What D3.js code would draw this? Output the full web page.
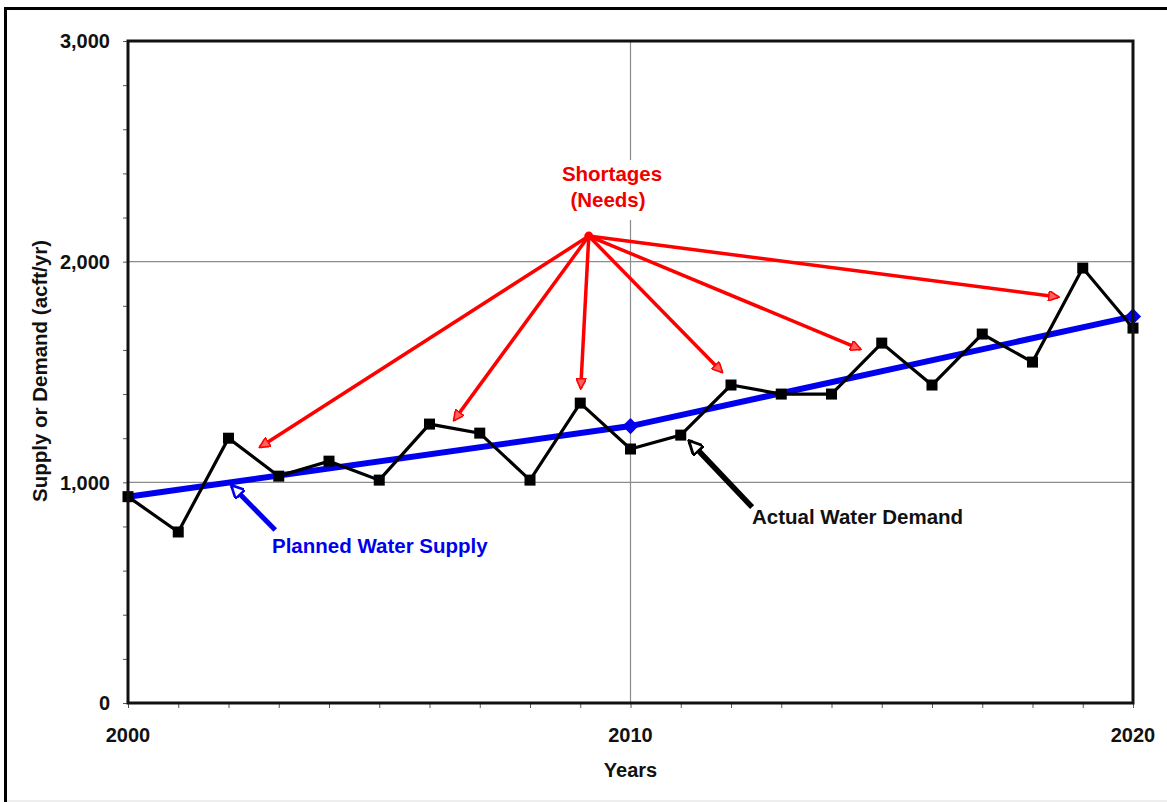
<!DOCTYPE html>
<html>
<head>
<meta charset="utf-8">
<script src="https://cdn.jsdelivr.net/npm/d3@7"></script>
<style>
  html, body { margin: 0; padding: 0; background: #fff; }
  svg { display: block; }
  text { font-family: "Liberation Sans", Arial, sans-serif; font-weight: bold; }
</style>
</head>
<body>
<div id="chart"></div>
<script>
// ---------- data ----------
const years = [2000,2001,2002,2003,2004,2005,2006,2007,2008,2009,2010,
               2011,2012,2013,2014,2015,2016,2017,2018,2019,2020];
const actualDemand = [935,775,1200,1028,1096,1010,1264,1223,1010,1359,1151,
                      1214,1441,1400,1400,1631,1441,1672,1545,1971,1699];
const supplyYears = [2000, 2010, 2020];
const plannedSupply = [935, 1255, 1752];
const supplyMarkerYears = [2010, 2020];

const yMajorTicks = [0, 1000, 2000, 3000];
const xLabelTicks = [2000, 2010, 2020];

// annotation anchor points (data coordinates)
const shortageOrigin = {year: 2009.17, value: 2116};
const shortageTargetYears  = [2002.63, 2006.49, 2009.01, 2011.82, 2014.57, 2018.51];
const shortageTargetValues = [1160, 1282, 1427, 1500, 1604, 1840];
const supplyCallout = {fromYear: 2002.93, fromValue: 784, toYear: 2002.07, toValue: 983};
const demandCallout = {fromYear: 2012.42, fromValue: 888, toYear: 2011.18, toValue: 1185};

// ---------- layout ----------
const W = 1167, H = 802;
const svg = d3.select("#chart").append("svg").attr("width", W).attr("height", H);

const x = d3.scaleLinear().domain([2000, 2020]).range([128, 1133]);
const y = d3.scaleLinear().domain([0, 3000]).range([703, 41]);

// outer frame
svg.append("line").attr("x1", 5.5).attr("x2", 5.5).attr("y1", 7).attr("y2", 802)
  .attr("stroke", "#000").attr("stroke-width", 3);
svg.append("line").attr("x1", 4).attr("x2", 1167).attr("y1", 8.5).attr("y2", 8.5)
  .attr("stroke", "#000").attr("stroke-width", 3);
svg.append("line").attr("x1", 7).attr("x2", 1167).attr("y1", 801).attr("y2", 801)
  .attr("stroke", "#ddd").attr("stroke-width", 1);

const defs = svg.append("defs");
defs.append("marker").attr("id", "redHead")
  .attr("viewBox", "0 0 10 10").attr("refX", 9).attr("refY", 5)
  .attr("markerWidth", 3.4).attr("markerHeight", 3.0).attr("markerUnits", "strokeWidth")
  .attr("orient", "auto")
  .append("path").attr("d", "M0,0 L10,5 L0,10 Z")
  .attr("fill", "#ff6060").attr("stroke", "#ff0000").attr("stroke-width", 1.5);
defs.append("marker").attr("id", "blackHead")
  .attr("viewBox", "0 0 10 10").attr("refX", 9).attr("refY", 5)
  .attr("markerWidth", 3).attr("markerHeight", 2.6).attr("markerUnits", "strokeWidth")
  .attr("orient", "auto")
  .append("path").attr("d", "M0,0 L10,5 L0,10 Z")
  .attr("fill", "#fff").attr("stroke", "#000").attr("stroke-width", 2);
defs.append("marker").attr("id", "blueHead")
  .attr("viewBox", "0 0 10 10").attr("refX", 9).attr("refY", 5)
  .attr("markerWidth", 3).attr("markerHeight", 2.6).attr("markerUnits", "strokeWidth")
  .attr("orient", "auto")
  .append("path").attr("d", "M0,0 L10,5 L0,10 Z")
  .attr("fill", "#fff").attr("stroke", "#0000ee").attr("stroke-width", 2);

// gridlines
svg.append("g").selectAll("line").data([1000, 2000]).join("line")
  .attr("x1", x(2000)).attr("x2", x(2020))
  .attr("y1", d => y(d)).attr("y2", d => y(d))
  .attr("stroke", "#8c8c8c").attr("stroke-width", 1.2);
svg.append("line")
  .attr("x1", x(2010)).attr("x2", x(2010)).attr("y1", y(3000)).attr("y2", y(0))
  .attr("stroke", "#8c8c8c").attr("stroke-width", 1.2);

// axes (minor ticks)
const yAxis = d3.axisLeft(y).tickValues(d3.range(0, 3001, 200)).tickSize(5).tickFormat("");
const gy = svg.append("g").attr("transform", `translate(${x(2000)},0)`).call(yAxis);
const xAxis = d3.axisBottom(x).tickValues(d3.range(2000, 2021, 1)).tickSize(5).tickFormat("");
const gx = svg.append("g").attr("transform", `translate(0,${y(0)})`).call(xAxis);
[gx, gy].forEach(g => {
  g.select(".domain").remove();
  g.selectAll(".tick line").attr("stroke", "#555").attr("stroke-width", 1);
});

// tick labels
svg.append("g").selectAll("text").data(yMajorTicks).join("text")
  .attr("x", 110).attr("y", d => y(d)).attr("dy", "0.36em")
  .attr("text-anchor", "end").attr("font-size", 20).attr("fill", "#111")
  .text(d => d3.format(",")(d));
svg.append("g").selectAll("text").data(xLabelTicks).join("text")
  .attr("x", d => x(d)).attr("y", 742)
  .attr("text-anchor", "middle").attr("font-size", 20).attr("fill", "#111")
  .text(d => d);

// axis titles
svg.append("text").attr("x", x(2010)).attr("y", 777)
  .attr("text-anchor", "middle").attr("font-size", 20).attr("fill", "#111").text("Years");
svg.append("text").attr("transform", "translate(47,371) rotate(-90)")
  .attr("text-anchor", "middle").attr("font-size", 20.5).attr("fill", "#111")
  .text("Supply or Demand (acft/yr)");

// planned supply line
const supplyData = supplyYears.map((yr, i) => ({year: yr, value: plannedSupply[i]}));
svg.append("path").datum(supplyData)
  .attr("d", d3.line().x(d => x(d.year)).y(d => y(d.value)))
  .attr("fill", "none").attr("stroke", "#0000ee").attr("stroke-width", 6);
svg.append("g").selectAll("path").data(supplyMarkerYears).join("path")
  .attr("d", d3.symbol(d3.symbolSquare, 130))
  .attr("transform", d => `translate(${x(d)},${y(plannedSupply[supplyYears.indexOf(d)])}) rotate(45)`)
  .attr("fill", "#0000ee");

// actual demand line
const demandData = years.map((yr, i) => ({year: yr, value: actualDemand[i]}));
svg.append("path").datum(demandData)
  .attr("d", d3.line().x(d => x(d.year)).y(d => y(d.value)))
  .attr("fill", "none").attr("stroke", "#000").attr("stroke-width", 3.2);
svg.append("g").selectAll("rect").data(demandData).join("rect")
  .attr("x", d => x(d.year) - 5.5).attr("y", d => y(d.value) - 5.5)
  .attr("width", 11).attr("height", 11).attr("fill", "#000");

// plot frame
svg.append("rect").attr("x", x(2000)).attr("y", y(3000))
  .attr("width", x(2020) - x(2000)).attr("height", y(0) - y(3000))
  .attr("fill", "none").attr("stroke", "#111").attr("stroke-width", 3);

// shortage annotation
svg.append("rect").attr("x", 545).attr("y", 160).attr("width", 132).attr("height", 60).attr("fill", "#fff");
svg.append("text").attr("x", 612).attr("y", 181).attr("text-anchor", "middle")
  .attr("font-size", 20.5).attr("fill", "#ee0000").text("Shortages");
svg.append("text").attr("x", 608).attr("y", 207).attr("text-anchor", "middle")
  .attr("font-size", 20.5).attr("fill", "#ee0000").text("(Needs)");
svg.append("g").selectAll("line").data(shortageTargetYears).join("line")
  .attr("x1", x(shortageOrigin.year)).attr("y1", y(shortageOrigin.value))
  .attr("x2", d => x(d)).attr("y2", (d, i) => y(shortageTargetValues[i]))
  .attr("stroke", "#ff0000").attr("stroke-width", 3.5)
  .attr("marker-end", "url(#redHead)");
svg.append("circle").attr("cx", x(shortageOrigin.year)).attr("cy", y(shortageOrigin.value))
  .attr("r", 4.5).attr("fill", "#ff0000");

// callouts
svg.append("line")
  .attr("x1", x(supplyCallout.fromYear)).attr("y1", y(supplyCallout.fromValue))
  .attr("x2", x(supplyCallout.toYear)).attr("y2", y(supplyCallout.toValue))
  .attr("stroke", "#0000ee").attr("stroke-width", 5).attr("marker-end", "url(#blueHead)");
svg.append("text").attr("x", 272).attr("y", 553)
  .attr("font-size", 20.5).attr("fill", "#0000ee").text("Planned Water Supply");

svg.append("line")
  .attr("x1", x(demandCallout.fromYear)).attr("y1", y(demandCallout.fromValue))
  .attr("x2", x(demandCallout.toYear)).attr("y2", y(demandCallout.toValue))
  .attr("stroke", "#000").attr("stroke-width", 5.5).attr("marker-end", "url(#blackHead)");
svg.append("text").attr("x", 752).attr("y", 524)
  .attr("font-size", 20.5).attr("fill", "#111").text("Actual Water Demand");
</script>
</body>
</html>
